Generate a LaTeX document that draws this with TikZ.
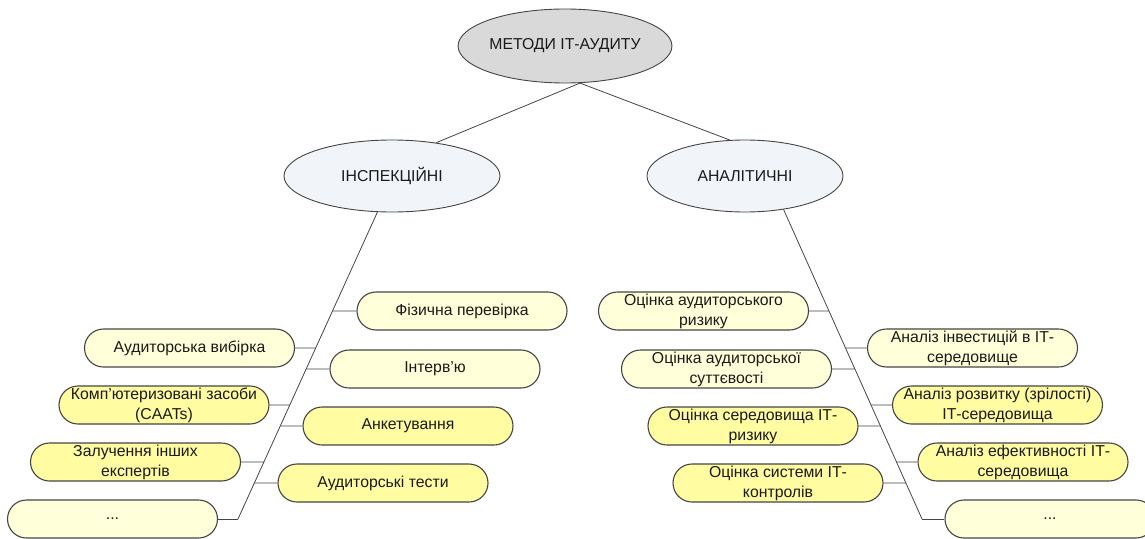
\documentclass[tikz,border=0pt]{standalone}
\usepackage{fontspec}
\setmainfont{Liberation Sans}
\usetikzlibrary{shapes.geometric}
\definecolor{linegray}{HTML}{454545}
\definecolor{textgray}{HTML}{1A1A1A}
\definecolor{pale}{HTML}{FFFFD9}
\definecolor{deep}{HTML}{FFFCA2}
\definecolor{topgray}{HTML}{D9D9D9}
\definecolor{sidegray}{HTML}{F1F4F8}
\begin{document}
\begin{tikzpicture}[
		x=1pt, y=-1pt,
		font=\fontsize{15.8}{20}\selectfont,
		oval/.style={ellipse, draw=linegray, line width=0.9pt, inner sep=0pt, text=textgray},
		method/.style={rectangle, rounded corners=19pt, draw=linegray, line width=1.1pt, minimum width=210pt, minimum height=38pt, inner sep=0pt, align=center, text=textgray, fill=pale},
		strong/.style={method, fill=deep},
		link/.style={draw=linegray, line width=0.8pt}
	]
	\path[use as bounding box, clip] (0,0) rectangle (1145,538);

	\node[oval, fill=topgray, minimum width=200pt, minimum height=74pt] (metody) at (565,46) {МЕТОДИ ІТ-АУДИТУ};
	\node[oval, fill=sidegray, minimum width=216pt, minimum height=72pt] (insp) at (392,176) {ІНСПЕКЦІЙНІ};
	\node[oval, fill=sidegray, minimum width=196pt, minimum height=72pt] (anal) at (745,176) {АНАЛІТИЧНІ};

	\draw[link] (metody.292) -- (insp.37);
	\draw[link] (metody.292) -- (anal.113);

	\coordinate (ltop) at (insp.248);
	\coordinate (lbot) at (238,519);
	\coordinate (rtop) at (anal.319);
	\coordinate (rbot) at (922,519);
	\draw[link] (ltop) -- (lbot);
	\draw[link] (rtop) -- (rbot);

	\node[method] (fiz) at (462,311) {Фізична перевірка};
	\node[method] (interv) at (435,369) {Інтерв’ю};
	\node[strong] (anket) at (408,426) {Анкетування};
	\node[strong] (testy) at (383,483) {Аудиторські тести};
	\node[method] (vybirka) at (189.5,348) {Аудиторська вибірка};
	\node[strong] (caats) at (164,405) {Комп’ютеризовані засоби\\(CAATs)};
	\node[strong] (ekspert) at (135.5,462) {Залучення інших\\експертів};
	\node[method] (ldots) at (112.5,519) {...};

	\node[method] (ryzyk) at (703.5,311) {Оцінка аудиторського\\ризику};
	\node[method] (suttev) at (726.5,369) {Оцінка аудиторської\\суттєвості};
	\node[strong] (seredov) at (753,426) {Оцінка середовища ІТ-\\ризику};
	\node[strong] (kontrol) at (778,483) {Оцінка системи ІТ-\\контролів};
	\node[method] (invest) at (972.5,348) {Аналіз інвестицій в ІТ-\\середовище};
	\node[strong] (rozvytok) at (997.5,405) {Аналіз розвитку (зрілості)\\ІТ-середовища};
	\node[strong] (efekt) at (1023,462) {Аналіз ефективності ІТ-\\середовища};
	\node[method] (rdots) at (1050,519) {...};

	\foreach \b in {fiz,interv,anket,testy,vybirka,caats,ekspert}
		\draw[link] (\b) -- (intersection of ltop--lbot and \b.west--\b.east);
	\foreach \b in {ryzyk,suttev,seredov,kontrol,invest,rozvytok,efekt}
		\draw[link] (\b) -- (intersection of rtop--rbot and \b.west--\b.east);
	\draw[link] (ldots) -- (lbot);
	\draw[link] (rdots) -- (rbot);
\end{tikzpicture}
\end{document}
